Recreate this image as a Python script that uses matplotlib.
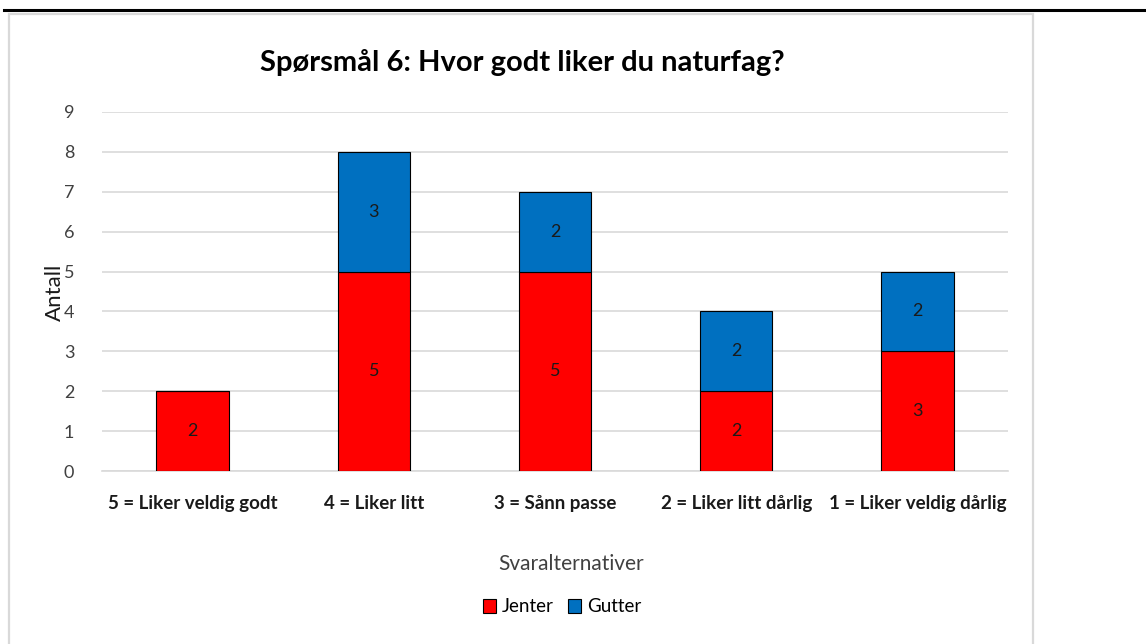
import matplotlib.pyplot as plt
from matplotlib.patches import Rectangle
import numpy as np

plt.rcParams['font.family'] = ['Lato', 'DejaVu Sans']

categories = ['5 = Liker veldig godt', '4 = Liker litt', '3 = Sånn passe',
              '2 = Liker litt dårlig', '1 = Liker veldig dårlig']
jenter = [2, 5, 5, 2, 3]
gutter = [0, 3, 2, 2, 2]

W, H = 1146, 644
fig = plt.figure(figsize=(W / 100, H / 100), dpi=100)

# outer frame: black rule on top, light grey chart border
fig.add_artist(plt.Line2D([4 / W, 1], [1 - 10 / H, 1 - 10 / H], color='black', lw=2.2))
fig.add_artist(Rectangle((9 / W, -0.01), (1033 - 9) / W, 1 - 14 / H + 0.01,
                         transform=fig.transFigure, fill=False,
                         edgecolor='#d9d9d9', lw=1.6))

ax = fig.add_axes([102 / W, 1 - 471 / H, (1008 - 102) / W, (471 - 112) / H])
x = np.arange(len(categories))
ax.bar(x, jenter, width=0.4, color='#ff0000', edgecolor='black', lw=0.8,
       label='Jenter', zorder=3)
ax.bar(x, gutter, width=0.4, bottom=jenter, color='#0070c0', edgecolor='black',
       lw=0.8, label='Gutter', zorder=3)

for i in range(len(categories)):
    if jenter[i]:
        ax.text(x[i], jenter[i] / 2, str(jenter[i]), ha='center', va='center',
                fontsize=13, color='#1a1a1a', zorder=4)
    if gutter[i]:
        ax.text(x[i], jenter[i] + gutter[i] / 2, str(gutter[i]), ha='center',
                va='center', fontsize=13, color='#1a1a1a', zorder=4)

ax.set_xlim(-0.5, len(categories) - 0.5)
ax.set_ylim(0, 9)
ax.set_yticks(range(10))
ax.yaxis.grid(True, color='#d9d9d9', lw=1.2, zorder=0)
for s in ['top', 'right', 'left']:
    ax.spines[s].set_visible(False)
ax.spines['bottom'].set_color('#d9d9d9')
ax.spines['bottom'].set_linewidth(1.2)
ax.tick_params(axis='both', length=0)
ax.tick_params(axis='y', labelsize=13, labelcolor='#404040', pad=20)
ax.set_xticks(x)
ax.set_xticklabels(categories, fontsize=13.5, fontweight='bold', color='#1a1a1a')
ax.tick_params(axis='x', pad=17)

fig.text(522 / W, 1 - 62 / H, 'Spørsmål 6: Hvor godt liker du naturfag?',
         ha='center', va='center', fontsize=21, fontweight='bold', color='black')
fig.text(55 / W, 1 - 292 / H, 'Antall', rotation=90, ha='center', va='center',
         fontsize=16, color='#1a1a1a')
fig.text(571 / W, 1 - 564 / H, 'Svaralternativer', ha='center', va='center',
         fontsize=15, color='#404040')

fig.legend(loc='center', bbox_to_anchor=(562 / W, 1 - 607 / H), ncol=2,
           frameon=False, fontsize=13.5, handlelength=0.7, handleheight=0.7,
           handletextpad=0.3, columnspacing=0.8)

fig.savefig('out.png', dpi=100)
